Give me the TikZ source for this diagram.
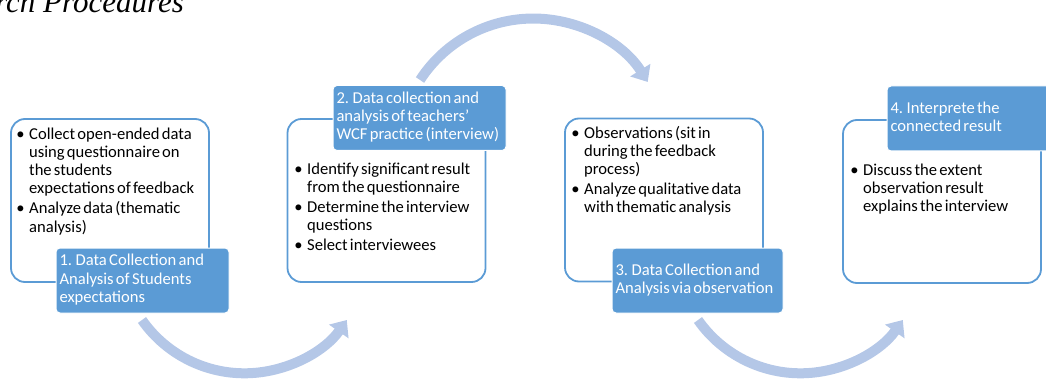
\documentclass[tikz,border=0pt]{standalone}
\usepackage{fontspec}
\setmainfont{Carlito}[WordSpace=0.6]
\newfontfamily\headfont{Liberation Serif}
\usetikzlibrary{arrows.meta}

\definecolor{stepblue}{HTML}{5B9BD5}
\definecolor{turnblue}{HTML}{B4C7E7}
\newcommand\bul{\llap{\textbullet\hspace{4.5pt}}}

\tikzset{
    stepframe/.style={draw=stepblue, line width=1.8pt, rounded corners=14pt,
        minimum width=198pt, minimum height=163pt},
    steptitle/.style={fill=stepblue, draw=white, line width=1pt, rounded corners=4pt,
        text=white, text width=166pt, inner xsep=3.5pt, minimum height=65pt,
        execute at begin node={\spaceskip=0pt\xspaceskip=0pt\relax}},
    stepnotes/.style={anchor=north west, inner sep=0pt},
    turn/.style={draw=turnblue, line width=10pt, -{Triangle[width=23pt,length=14pt]}}
}

\begin{document}
\begin{tikzpicture}[x=1pt, y=1pt, font=\fontsize{16.6}{18.3}\selectfont]
    \clip (0,0) rectangle (1046,378);

    % Heading, cut by the page top
    \node[anchor=base east, inner sep=0pt, font=\headfont\itshape\fontsize{31}{36}\selectfont]
        (head) at (184,365) {Research Procedures};

    % Frames
    \node[stepframe] (f1) at (110,177.5) {};
    \node[stepframe] (f2) at (386.5,177.5) {};
    \node[stepframe] (f3) at (664,178) {};
    \node[stepframe] (f4) at (942,176.5) {};

    % Turning arrows
    \coordinate (a1) at (142,58);
    \coordinate (a2) at (420,298);
    \coordinate (a3) at (698,58);
    \draw[turn] (a1) arc[start angle=215, end angle=325, radius=125];
    \draw[turn] (a2) arc[start angle=147, end angle=32, radius=135];
    \draw[turn] (a3) arc[start angle=215, end angle=325, radius=125];

    % Step titles
    \node[steptitle] (s1) at (142.5,97.5) {\begin{tabular}{@{}l@{}}
        1. Data Collection and\\ Analysis of Students\\ expectations\end{tabular}};
    \node[steptitle] (s2) at (419.5,260) {\begin{tabular}{@{}l@{}}
        2. Data collection and\\ analysis of teachers'\\ WCF practice (interview)\end{tabular}};
    \node[steptitle, text width=164pt] (s3) at (697.5,97.5) {\begin{tabular}{@{}l@{}}
        3. Data Collection and\\ Analysis via observation\end{tabular}};
    \node[steptitle] (s4) at (973.5,259.5) {\begin{tabular}{@{}l@{}}
        4. Interprete the\\ connected result\end{tabular}};

    % Notes
    \node[stepnotes] (n1) at (29,252) {\begin{tabular}{@{}l@{}}
        \bul Collect open-ended data\\ using questionnaire on\\ the students\\ expectations of feedback\\[1.5pt]
        \bul Analyze data (thematic\\ analysis)\end{tabular}};
    \node[stepnotes] (n2) at (307,217) {\begin{tabular}{@{}l@{}}
        \bul Identify significant result\\ from the questionnaire\\[1.5pt]
        \bul Determine the interview\\ questions\\[1.5pt]
        \bul Select interviewees\end{tabular}};
    \node[stepnotes] (n3) at (584,253) {\begin{tabular}{@{}l@{}}
        \bul Observations (sit in\\ during the feedback\\ process)\\[1.5pt]
        \bul Analyze qualitative data\\ with thematic analysis\end{tabular}};
    \node[stepnotes] (n4) at (863,216) {\begin{tabular}{@{}l@{}}
        \bul Discuss the extent\\ observation result\\ explains the interview\end{tabular}};
\end{tikzpicture}
\end{document}
